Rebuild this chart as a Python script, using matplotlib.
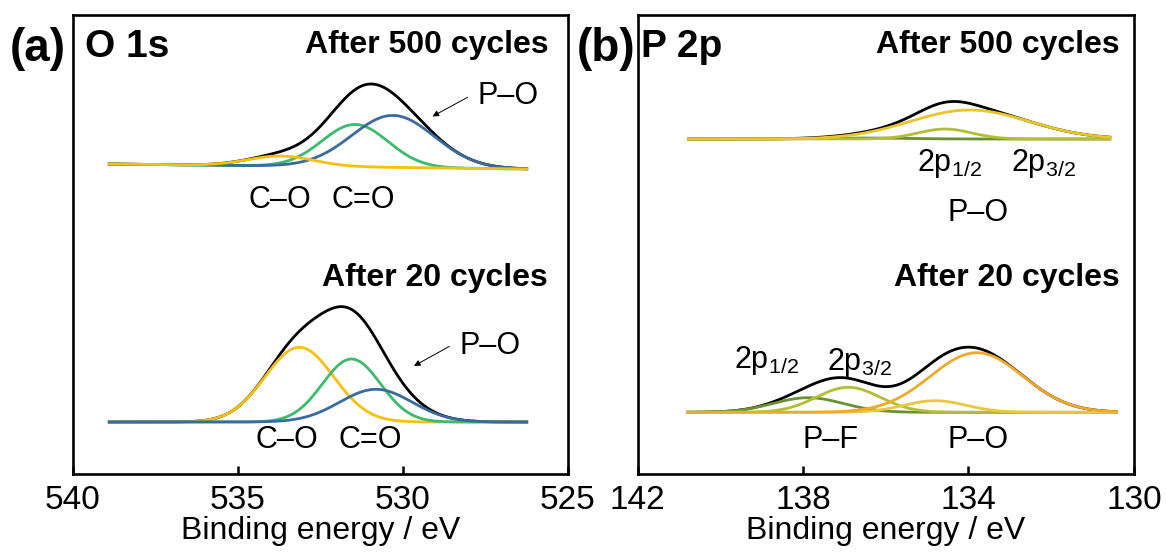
import numpy as np
import matplotlib
matplotlib.use('Agg')
import matplotlib.pyplot as plt

plt.rcParams['font.family'] = ['Liberation Sans', 'DejaVu Sans']
plt.rcParams['mathtext.fontset'] = 'custom'
plt.rcParams['mathtext.rm'] = 'Liberation Sans'

# ---- O 1s data (energy in eV, intensity in arb. units) ----
o1s_range = [538.9, 526.25]
# after 500 cycles: baseline at high / low BE end
o1s_500_base = [310, 305]
o1s_500_center = [533.7, 531.45, 530.3]      # C-O, C=O, P-O
o1s_500_height = [10, 42.5, 52]
o1s_500_sigma = [1.0, 1.0, 1.25]
# after 20 cycles
o1s_20_base = [52, 52]
o1s_20_center = [533.14, 531.56, 530.82]
o1s_20_height = [74.7, 63, 32.7]
o1s_20_sigma = [1.04, 0.88, 1.1]

# ---- P 2p data ----
p2p_500_range = [140.77, 130.58]
p2p_500_base = [335, 335]
p2p_500_center = [136.5, 134.57, 133.97]     # P-F, 2p1/2 P-O, 2p3/2 P-O
p2p_500_height = [1.0, 10, 29]
p2p_500_sigma = [1.0, 0.65, 1.44]

p2p_20_range = [140.79, 130.42]
p2p_20_base = [61.7, 61.7]
p2p_20_center = [137.88, 136.91, 134.81, 133.8]   # P-F 1/2, P-F 3/2, P-O 1/2, P-O 3/2
p2p_20_height = [14.6, 25, 11.6, 59.6]
p2p_20_sigma = [0.85, 0.77, 0.75, 1.12]

o1s_colors = ['#F7C011', '#3DBB6C', '#396B9E']
p2p_500_colors = ['#6A9131', '#B4BE32', '#E9C52A']
p2p_20_colors = ['#6A9131', '#B4BE32', '#EAC83A', '#F0A92A']


def components(erange, base, centers, heights, sigmas):
    e = np.linspace(erange[0], erange[1], 600)
    bg = base[0] + (base[1] - base[0]) * (e - erange[0]) / (erange[1] - erange[0])
    comps = [h * np.exp(-(e - c) ** 2 / (2 * s ** 2)) for c, h, s in zip(centers, heights, sigmas)]
    total = bg + np.sum(comps, axis=0)
    return e, bg, comps, total


fig = plt.figure(figsize=(11.66, 5.52), dpi=100)
axa = fig.add_axes([0.0626, 0.1413, 0.4245, 0.8315])
axb = fig.add_axes([0.547, 0.1413, 0.4254, 0.8315])

lw = 2.0

# panel (a) after 500 cycles: black, green, blue, yellow on top
e, bg, comps, total = components(o1s_range, o1s_500_base, o1s_500_center, o1s_500_height, o1s_500_sigma)
axa.plot(e, total, color='black', lw=lw, zorder=2)
axa.plot(e, bg + comps[1], color=o1s_colors[1], lw=lw, zorder=3)
axa.plot(e, bg + comps[2], color=o1s_colors[2], lw=lw, zorder=4)
axa.plot(e, bg + comps[0], color=o1s_colors[0], lw=lw, zorder=5)

# panel (a) after 20 cycles: blue on top
e, bg, comps, total = components(o1s_range, o1s_20_base, o1s_20_center, o1s_20_height, o1s_20_sigma)
axa.plot(e, total, color='black', lw=lw, zorder=2)
axa.plot(e, bg + comps[0], color=o1s_colors[0], lw=lw, zorder=3)
axa.plot(e, bg + comps[1], color=o1s_colors[1], lw=lw, zorder=4)
axa.plot(e, bg + comps[2], color=o1s_colors[2], lw=lw, zorder=5)

# panel (b) after 500 cycles
e, bg, comps, total = components(p2p_500_range, p2p_500_base, p2p_500_center, p2p_500_height, p2p_500_sigma)
axb.plot(e, total, color='black', lw=lw, zorder=2)
for i in range(3):
    axb.plot(e, bg + comps[i], color=p2p_500_colors[i], lw=lw, zorder=3 + i)

# panel (b) after 20 cycles
e, bg, comps, total = components(p2p_20_range, p2p_20_base, p2p_20_center, p2p_20_height, p2p_20_sigma)
axb.plot(e, total, color='black', lw=lw, zorder=2)
for i in range(4):
    axb.plot(e, bg + comps[i], color=p2p_20_colors[i], lw=lw, zorder=3 + i)

for ax, lim, ticks in [(axa, (540, 525), [540, 535, 530, 525]), (axb, (142, 130), [142, 138, 134, 130])]:
    ax.set_xlim(*lim)
    ax.set_ylim(0, 459)
    ax.set_xticks(ticks)
    ax.set_yticks([])
    ax.tick_params(axis='x', direction='in', length=6, width=1.8, labelsize=24, pad=8)
    for sp in ax.spines.values():
        sp.set_linewidth(1.9)
    ax.set_xlabel('Binding energy / eV', fontsize=23, labelpad=0)

lab = 22
bold_size = 23
# text in panel (a)
axa.text(0.025, 0.93, 'O 1s', transform=axa.transAxes, fontsize=28, fontweight='bold', va='center', ha='left')
axa.text(0.96, 0.935, 'After 500 cycles', transform=axa.transAxes, fontsize=bold_size, fontweight='bold', va='center', ha='right')
axa.text(0.96, 0.427, 'After 20 cycles', transform=axa.transAxes, fontsize=bold_size, fontweight='bold', va='center', ha='right')
axa.text(533.73, 274, 'C\u2013O', fontsize=lab, ha='center', va='center')
axa.text(531.21, 274, 'C=O', fontsize=lab, ha='center', va='center')
axa.text(526.82, 378, 'P\u2013O', fontsize=lab, ha='center', va='center')
axa.annotate('', xy=(529.18, 356.3), xytext=(527.97, 378),
             arrowprops=dict(arrowstyle='-|>', lw=0.7, color='black', mutation_scale=9))
axa.text(533.52, 34, 'C\u2013O', fontsize=lab, ha='center', va='center')
axa.text(531.0, 34, 'C=O', fontsize=lab, ha='center', va='center')
axa.text(527.36, 128.3, 'P\u2013O', fontsize=lab, ha='center', va='center')
axa.annotate('', xy=(529.74, 106.7), xytext=(528.52, 129),
             arrowprops=dict(arrowstyle='-|>', lw=0.7, color='black', mutation_scale=9))

# text in panel (b)
axb.text(0.006, 0.93, 'P 2p', transform=axb.transAxes, fontsize=28, fontweight='bold', va='center', ha='left')
axb.text(0.972, 0.935, 'After 500 cycles', transform=axb.transAxes, fontsize=bold_size, fontweight='bold', va='center', ha='right')
axb.text(0.972, 0.427, 'After 20 cycles', transform=axb.transAxes, fontsize=bold_size, fontweight='bold', va='center', ha='right')
axb.text(134.45, 311, r'2p$_{\mathregular{1/2}}$', fontsize=lab, ha='center', va='center')
axb.text(132.18, 311, r'2p$_{\mathregular{3/2}}$', fontsize=lab, ha='center', va='center')
axb.text(133.77, 261, 'P\u2013O', fontsize=lab, ha='center', va='center')
axb.text(138.88, 114, r'2p$_{\mathregular{1/2}}$', fontsize=lab, ha='center', va='center')
axb.text(136.63, 112, r'2p$_{\mathregular{3/2}}$', fontsize=lab, ha='center', va='center')
axb.text(137.35, 34, 'P\u2013F', fontsize=lab, ha='center', va='center')
axb.text(133.77, 34, 'P\u2013O', fontsize=lab, ha='center', va='center')

fig.text(0.0086, 0.912, '(a)', fontsize=33, fontweight='bold', va='center', ha='left')
fig.text(0.4945, 0.912, '(b)', fontsize=33, fontweight='bold', va='center', ha='left')

fig.savefig('out.png', dpi=100)
